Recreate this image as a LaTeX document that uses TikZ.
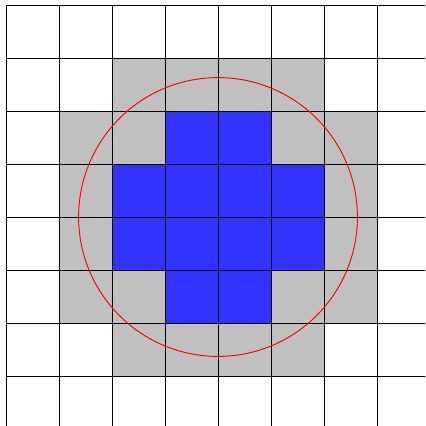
\documentclass[tikz,border=0pt]{standalone}
\definecolor{cellgray}{RGB}{192,192,192}
\definecolor{cellblue}{RGB}{51,51,255}
\begin{document}
\begin{tikzpicture}[
  graycell/.style={fill=cellgray},
  bluecell/.style={fill=cellblue},
  gridline/.style={line width=0.45pt,black},
  ring/.style={red,line width=0.5pt}]
\useasboundingbox (-0.113,0.057) rectangle (7.906,8.094);
\clip (-0.113,0.057) rectangle (7.906,8.094);
% gray cells
\fill[graycell] (2,7) rectangle (6,6);
\fill[graycell] (1,6) rectangle (7,2);
\fill[graycell] (2,2) rectangle (6,1);
% blue cells
\fill[bluecell] (3,6) rectangle (5,5);
\fill[bluecell] (2,5) rectangle (6,3);
\fill[bluecell] (3,3) rectangle (5,2);
% grid
\draw[gridline] (0,0) grid (8,8);
% circle
\draw[ring] (4,4) circle (2.63);
\end{tikzpicture}
\end{document}
